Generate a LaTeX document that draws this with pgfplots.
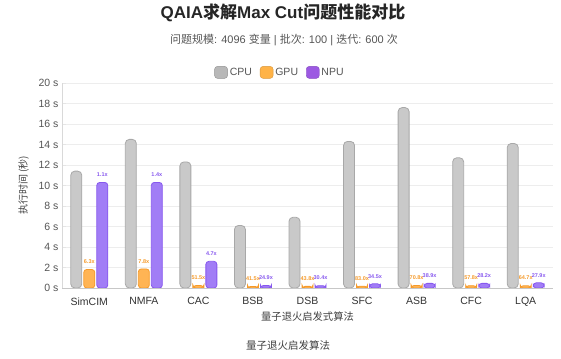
\documentclass[border=0pt]{standalone}
\usepackage{fontspec}
\setmainfont{Liberation Sans}
\newfontfamily\cjk{Noto Sans CJK SC}
\usepackage{pgfplots}
\pgfplotsset{compat=1.18}
\definecolor{cpuF}{HTML}{C9C9C9}
\definecolor{cpuD}{HTML}{A8A8A8}
\definecolor{gpuF}{HTML}{FFB454}
\definecolor{gpuD}{HTML}{F59A2A}
\definecolor{npuF}{HTML}{A17DF6}
\definecolor{npuD}{HTML}{8758EE}
\definecolor{legC}{HTML}{B8B8B8}
\definecolor{legG}{HTML}{FFB347}
\definecolor{legN}{HTML}{9C59E2}
\definecolor{txt}{HTML}{555555}
\pgfplotsset{roundbox legend/.style={legend image code/.code={\draw[rounded corners=3pt,##1] (0pt,-6pt) rectangle (13pt,6pt);}}}
\begin{document}
\begin{tikzpicture}[x=1pt,y=1pt]
\path[use as bounding box] (0,0) rectangle (561,358);
\node[font=\fontsize{17}{19}\selectfont\bfseries, text=black!85] at (283,345) {QAIA{\cjk 求解}Max Cut{\cjk 问题性能对比}};
\node[font=\fontsize{11}{13}\selectfont, text=txt] at (284,318) {{\cjk 问题规模}: 4096 {\cjk 变量} | {\cjk 批次}: 100 | {\cjk 迭代}: 600 {\cjk 次}};
\begin{axis}[
  at={(62pt,70pt)}, anchor=south west,
  scale only axis, width=491pt, height=205pt,
  xmin=-0.5, xmax=8.5, ymin=0, ymax=20,
  xtick={0,...,8},
  xticklabels={SimCIM,NMFA,CAC,BSB,DSB,SFC,ASB,CFC,LQA},
  ytick={0,2,...,20},
  yticklabel={\pgfmathprintnumber{\tick} s},
  /pgf/number format/assume math mode=true,
  ticklabel style={font=\fontsize{10.5}{12}\selectfont, text=txt},
  xticklabel style={text=black!80, yshift=-2pt},
  ymajorgrids, grid style={draw=black!7},
  axis x line*=bottom, axis y line*=left,
  axis line style={-, draw=black!15},
  x axis line style={draw=black!22},
  xtick style={draw=none},
  ytick style={draw=black!10}, major tick length=4pt,
  xlabel={\cjk 量子退火启发式算法},
  ylabel={\cjk 执行时间 (秒)},
  xlabel style={font=\fontsize{10.3}{12}\selectfont, text=black!75, yshift=2pt},
  ylabel style={font=\fontsize{10}{12}\selectfont, text=black!75, yshift=3pt},
  ybar=2pt, bar width=11pt,
  legend style={at={(0.444,1.0)}, anchor=south, yshift=2pt, draw=none, legend columns=3,
    font=\fontsize{10.5}{12}\selectfont, text=txt,
    /tikz/every even column/.append style={column sep=6pt}},
  legend cell align=left,
  nodes near coords={\pgfplotspointmeta},
  point meta=explicit symbolic,
  every node near coord/.append style={font=\fontsize{5.5}{6}\selectfont\bfseries, anchor=south, yshift=2pt},
]
\addlegendimage{roundbox legend, draw=legC!80!black, fill=legC}
\addlegendentry{CPU}
\addlegendimage{roundbox legend, draw=legG!85!black, fill=legG}
\addlegendentry{GPU}
\addlegendimage{roundbox legend, draw=legN!85!black, fill=legN}
\addlegendentry{NPU}
\addplot[draw=cpuD, fill=cpuF, line width=0.8pt, rounded corners=4pt, nodes near coords={}] coordinates {
 (0,11.4) [] (1,14.5) [] (2,12.3) [] (3,6.1) [] (4,6.9) [] (5,14.3) [] (6,17.6) [] (7,12.7) [] (8,14.1) []};
\addplot[draw=gpuD, fill=gpuF, line width=0.8pt, rounded corners=3pt, every node near coord/.append style={text=gpuD}] coordinates {
 (0,1.81) [6.3x] (1,1.86) [7.8x] (2,0.24) [51.5x] (3,0.147) [41.5x] (4,0.158) [43.8x] (5,0.172) [83.0x] (6,0.249) [70.8x] (7,0.22) [57.8x] (8,0.218) [64.7x]};
\addplot[draw=npuD, fill=npuF, line width=0.8pt, rounded corners=3pt, every node near coord/.append style={text=npuD}] coordinates {
 (0,10.3) [1.1x] (1,10.3) [1.4x] (2,2.6) [4.7x] (3,0.245) [24.9x] (4,0.227) [30.4x] (5,0.41) [34.5x] (6,0.45) [38.9x] (7,0.45) [28.2x] (8,0.505) [27.9x]};
\end{axis}
\node[font=\fontsize{10.5}{12}\selectfont, text=black!75] at (288,13) {\cjk 量子退火启发算法};
\end{tikzpicture}
\end{document}
